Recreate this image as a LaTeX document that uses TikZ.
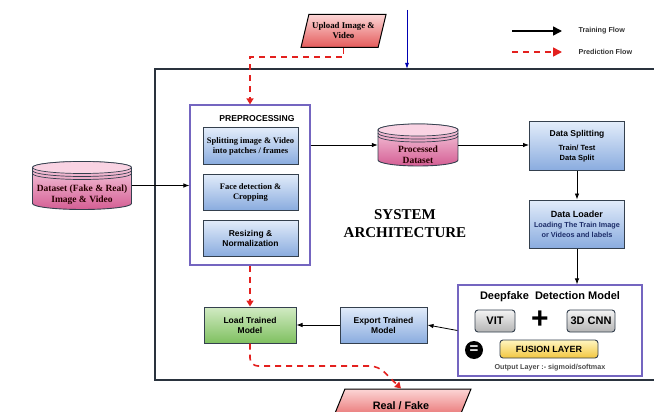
\documentclass[tikz,border=0pt]{standalone}
\usepackage{fontspec}
\setmainfont{Liberation Serif}
\setsansfont{Liberation Sans}
\usetikzlibrary{positioning,shapes.geometric,arrows.meta}

\definecolor{boxline}{HTML}{34404E}
\definecolor{panelline}{HTML}{7465C0}
\definecolor{bluetop}{HTML}{E2ECFA}
\definecolor{bluebot}{HTML}{8AACDF}
\definecolor{greentop}{HTML}{D2EBC4}
\definecolor{greenbot}{HTML}{7FC060}
\definecolor{greytop}{HTML}{F4F4F4}
\definecolor{greybot}{HTML}{B4B4B4}
\definecolor{yellowtop}{HTML}{FFF6C0}
\definecolor{yellowbot}{HTML}{F2C640}
\definecolor{pinktop}{HTML}{F9D3E3}
\definecolor{pinkbot}{HTML}{D45E94}
\definecolor{redtop}{HTML}{FCD6D6}
\definecolor{redbot}{HTML}{E45A5A}
\definecolor{predred}{HTML}{E3201E}
\definecolor{loadertext}{HTML}{1E2E6A}

% cylinder: name, centre x, centre y, half width, half height, text
\newcommand{\drum}[6]{
	\path[draw=boxline,line width=0.9pt,top color=pinktop,bottom color=pinkbot]
		(#2-#4,#3-#5+6) -- (#2-#4,#3+#5-6)
		arc[start angle=180,end angle=360,x radius=#4pt,y radius=6pt]
		-- (#2+#4,#3-#5+6)
		arc[start angle=0,end angle=180,x radius=#4pt,y radius=6pt] -- cycle;
	\draw[boxline,line width=0.7pt,fill=pinktop] (#2,#3-#5+6) ellipse[x radius=#4pt,y radius=6pt];
	\draw[boxline,line width=0.7pt] (#2-#4,#3-#5+9) arc[start angle=180,end angle=360,x radius=#4pt,y radius=6pt];
	\draw[boxline,line width=0.7pt] (#2-#4,#3-#5+12) arc[start angle=180,end angle=360,x radius=#4pt,y radius=6pt];
	\node[minimum width=2*#4pt,minimum height=2*#5pt,inner sep=0pt] (#1) at (#2,#3) {};
	\node[align=center,inner sep=0pt,text=black!85!red,
		font=\rmfamily\bfseries\fontsize{9.5}{11}\selectfont] (#1-text) at (#2,#3+9.5) {#6};
}

\begin{document}
\begin{tikzpicture}[x=1pt,y=-1pt,>=latex,font=\sffamily\bfseries]

	\tikzstyle{stage}=[draw=boxline,line width=1pt,top color=bluetop,bottom color=bluebot,align=center,inner sep=2pt,font=\sffamily\bfseries\fontsize{8.5}{10}\selectfont]
	\tikzstyle{serifstage}=[stage,font=\rmfamily\bfseries\fontsize{8.5}{10}\selectfont]
	\tikzstyle{panel}=[draw=panelline,line width=1.2pt,fill=white]
	\tikzstyle{chip}=[draw=boxline,line width=0.9pt,rounded corners=3pt,top color=greytop,bottom color=greybot,font=\sffamily\bfseries\fontsize{11}{12}\selectfont,minimum height=22pt,inner sep=2pt]
	\tikzstyle{slanted}=[trapezium,trapezium stretches,draw=black,line width=1pt,top color=redtop,bottom color=redbot,align=center]
	\tikzstyle{flow}=[-{Latex[length=6pt,width=4.5pt]},line width=0.8pt]
	\tikzstyle{predflow}=[-{Triangle[length=6pt,width=7pt]},predred,line width=1.6pt,dash pattern=on 6pt off 5pt]

	\useasboundingbox (0,0) rectangle (654,412);

	% system frame
	\draw[boxline!80!black,line width=1.2pt] (155,69) rectangle (665,380);
	\coordinate (feed) at (407,10);
	\draw[-{Latex[length=6pt,width=4pt]},blue!70!black,line width=0.8pt] (feed) -- (407,69);

	% legend
	\coordinate (lgA) at (512,31);
	\coordinate (lgB) at (562,31);
	\coordinate (lgC) at (512,52);
	\coordinate (lgD) at (562,52);
	\draw[-{Triangle[length=9pt,width=9pt]},line width=1.6pt] (lgA) -- (lgB);
	\draw[predflow,-{Triangle[length=9pt,width=9pt]}] (lgC) -- (lgD);
	\node[anchor=west,font=\sffamily\bfseries\fontsize{7.2}{8}\selectfont,text=black!80] (lgtrain) at (575,31) {Training Flow};
	\node[anchor=west,font=\sffamily\bfseries\fontsize{7.2}{8}\selectfont,text=black!80] (lgpred) at (575,52) {Prediction Flow};

	% input / output
	\node[slanted,trapezium left angle=71,trapezium right angle=109,minimum width=82pt,minimum height=33pt,
		font=\rmfamily\bfseries\fontsize{8.8}{10}\selectfont] (upload) at (343.5,31) {Upload Image \&\\Video};
	\node[slanted,trapezium left angle=62,trapezium right angle=118,minimum width=140pt,minimum height=34pt,
		font=\sffamily\bfseries\fontsize{10.8}{12}\selectfont] (result) at (401,406) {Real / Fake};

	% preprocessing
	\node[panel,minimum width=120pt,minimum height=160pt] (pre) at (250,185) {};
	\node[font=\sffamily\bfseries\fontsize{8.6}{9}\selectfont] (pretitle) at (257,119) {PREPROCESSING};
	\node[serifstage,minimum width=95pt,minimum height=36pt] (split) at (250.5,146) {Splitting image \& Video\\into patches / frames};
	\node[serifstage,minimum width=95pt,minimum height=36pt,below=9pt of split] (face) {Face detection \&\\Cropping};
	\node[stage,minimum width=95pt,minimum height=36pt,below=9pt of face] (resize) {Resizing \&\\Normalization};

	% datasets
	\drum{dataset}{82}{185.5}{49.5}{24}{Dataset (Fake \& Real)\\Image \& Video}
	\drum{processed}{418}{145}{40}{21}{Processed\\Dataset}

	% data handling
	\node[stage,minimum width=95pt,minimum height=48pt] (dsplit) at (577,146)
		{{\fontsize{8.5}{10}\selectfont Data Splitting}\\[4pt]{\fontsize{7.5}{9}\selectfont Train/ Test}\\{\fontsize{7.5}{9}\selectfont Data Split}};
	\node[stage,minimum width=95pt,minimum height=48pt,below=29pt of dsplit] (dload)
		{{\fontsize{9}{10}\selectfont Data Loader}\\{\color{loadertext}\fontsize{7.3}{8.5}\selectfont Loading The Train Image}\\{\color{loadertext}\fontsize{7.3}{8.5}\selectfont or Videos and labels}};

	% model
	\node[panel,minimum width=184pt,minimum height=91pt] (model) at (550,330.5) {};
	\node[font=\sffamily\bfseries\fontsize{11}{12}\selectfont] (mtitle) at (550,297) {Deepfake\ \ Detection Model};
	\node[chip,minimum width=40pt] (vit) at (495,321) {VIT};
	\node[chip,minimum width=48pt] (cnn) at (591,321) {3D CNN};
	\node[font=\sffamily\bfseries\fontsize{30}{30}\selectfont] (plus) at (540,320) {+};
	\node[circle,fill=black,minimum size=18pt,inner sep=0pt,text=white,font=\sffamily\bfseries\fontsize{15}{15}\selectfont] (equal) at (474,350) {=};
	\node[chip,top color=yellowtop,bottom color=yellowbot,minimum width=98pt,minimum height=18pt,
		font=\sffamily\bfseries\fontsize{9}{10}\selectfont] (fusion) at (549,349) {FUSION LAYER};
	\node[font=\sffamily\bfseries\fontsize{7.2}{8}\selectfont,text=black!70] (outlayer) at (550,367.5) {Output Layer :- sigmoid/softmax};

	\node[stage,minimum width=87pt,minimum height=36pt] (export) at (383.5,325) {Export Trained\\Model};
	\node[stage,top color=greentop,bottom color=greenbot,minimum width=92pt,minimum height=36pt] (load) at (250,325) {Load Trained\\Model};

	% training flow
	\draw[flow] (dataset.east) -- (pre.west |- dataset.east);
	\draw[flow] (pre.east |- processed.west) -- (processed.west);
	\draw[flow] (processed.east) -- (dsplit.west |- processed.east);
	\draw[flow] (dsplit) -- (dload);
	\draw[flow] (dload.south) -- (dload.south |- model.north);
	\draw[flow] (model.west) -- (export.east);
	\draw[flow] (export) -- (load);

	% prediction flow
	\coordinate (bend) at (378,366);
	\draw[predflow] (upload.south) -- ++(0,9) -| (pre.north);
	\draw[predflow] (pre.south) -- (load.north);
	\draw[predflow,rounded corners=8pt] (load.south) |- (bend) -- (result.north);

	% title
	\node[align=center,font=\rmfamily\bfseries\fontsize{15}{18}\selectfont] (systitle) at (405,224) {SYSTEM\\ARCHITECTURE};

\end{tikzpicture}
\end{document}
